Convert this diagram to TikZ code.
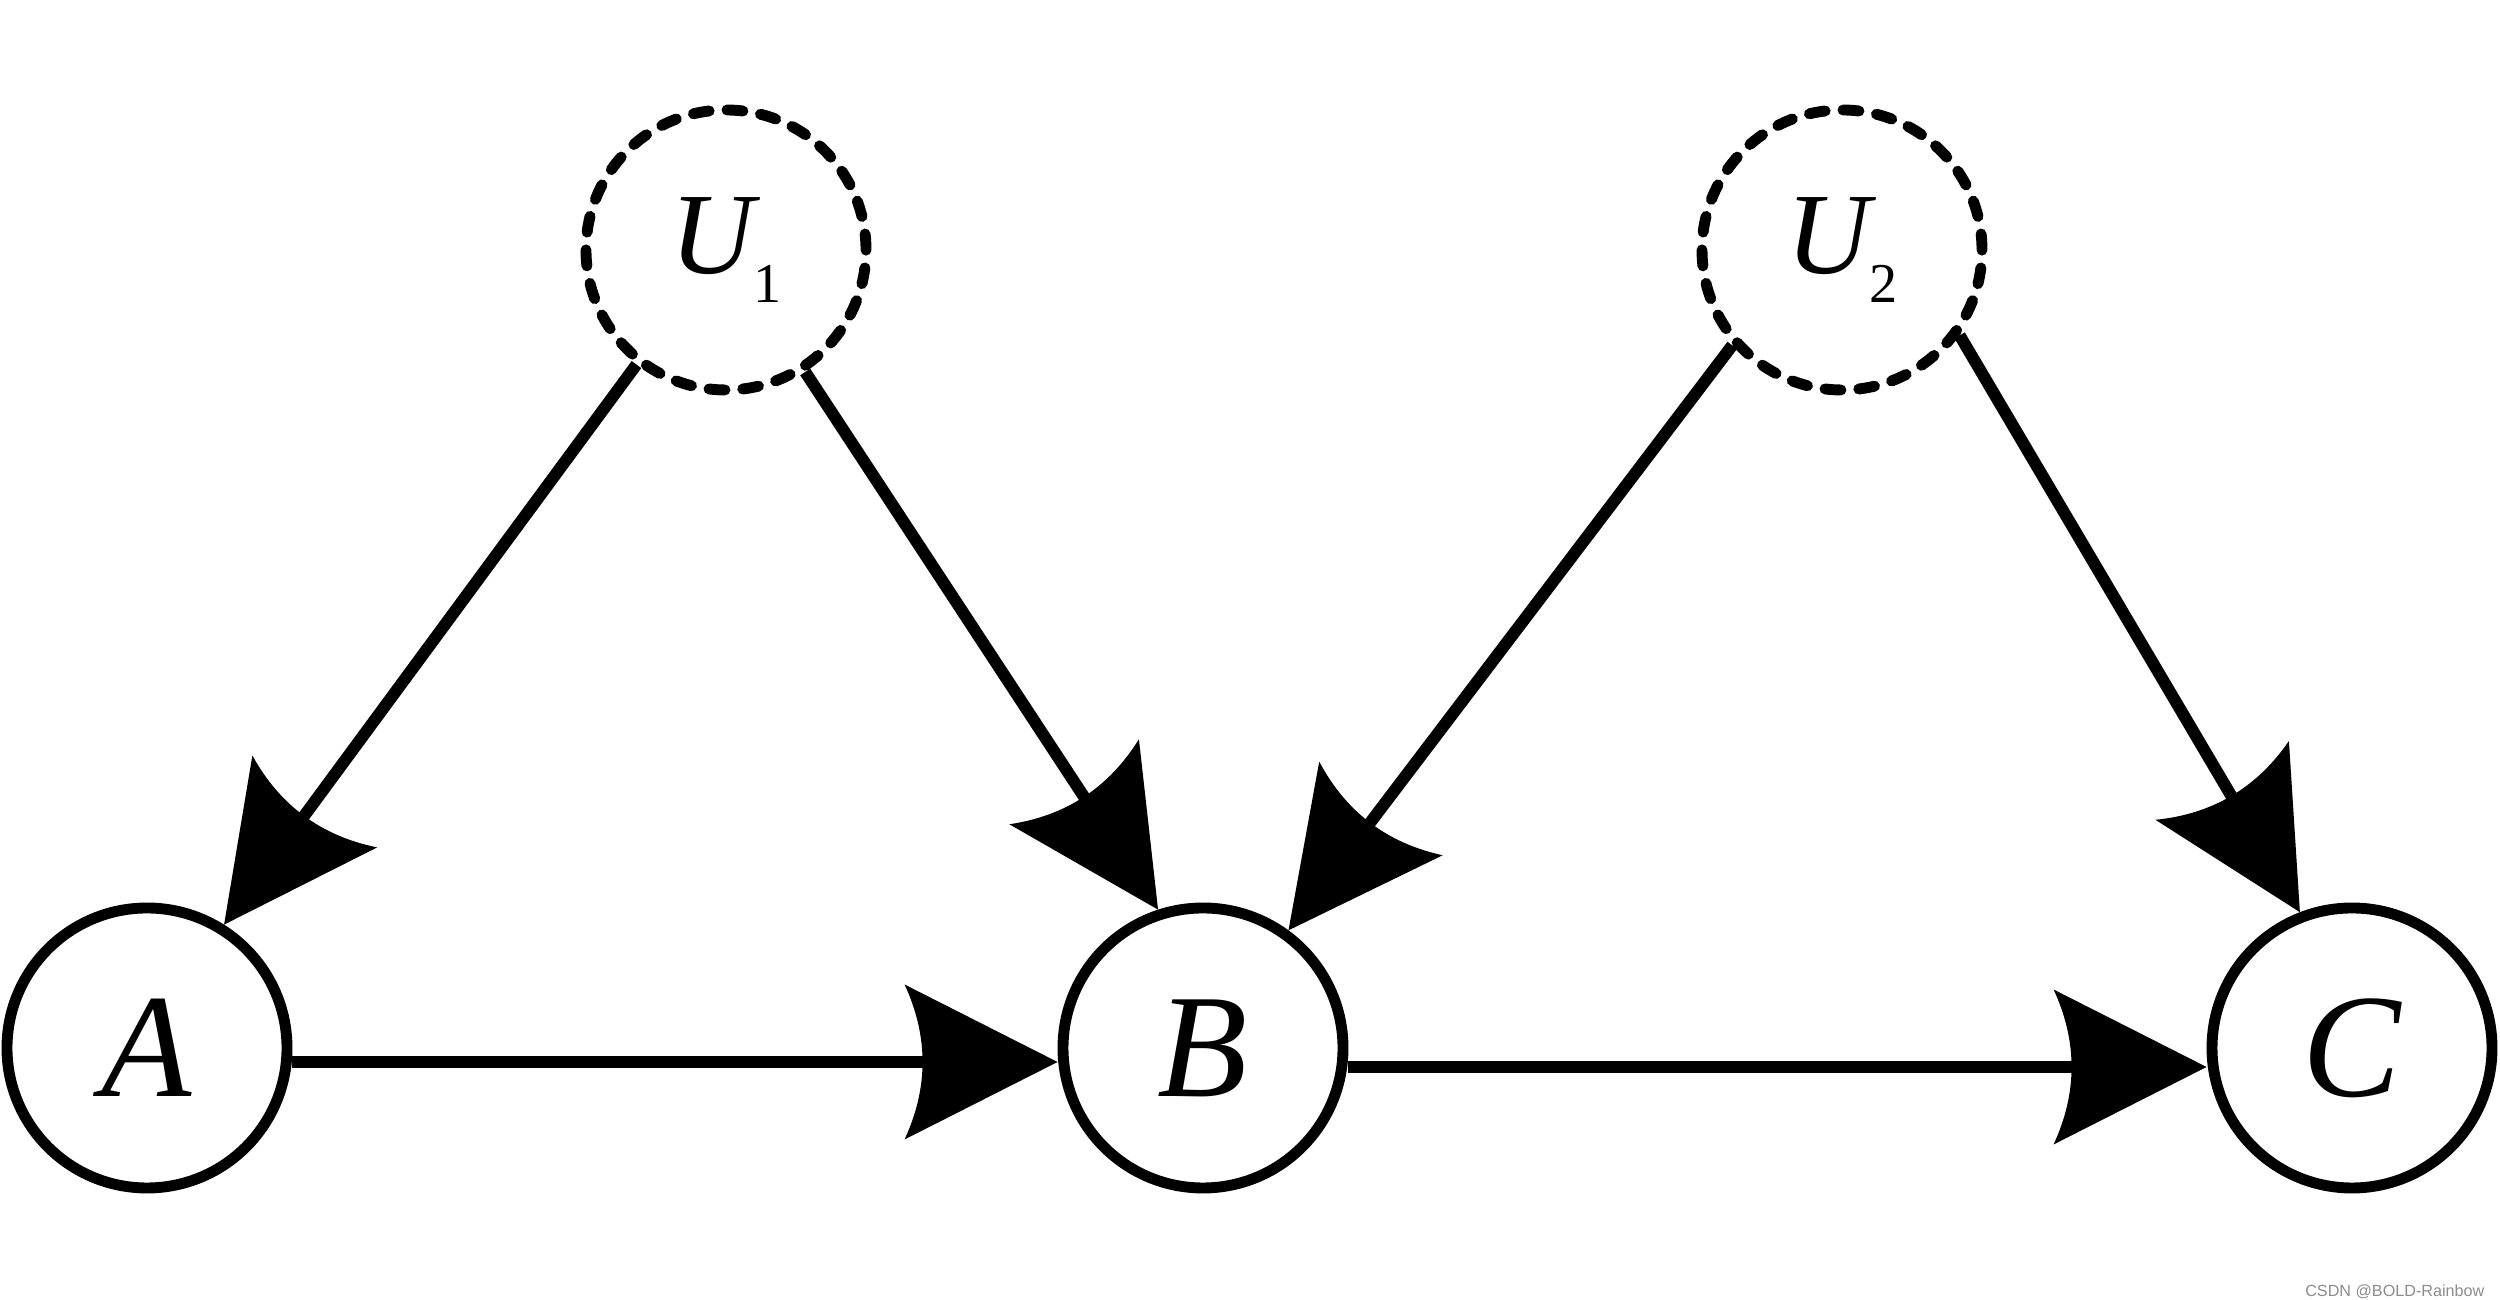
\documentclass[tikz,border=0pt]{standalone}
\usepackage{fontspec}
\setmainfont{Liberation Serif}[ItalicFont={Liberation Serif Italic}]
\newfontfamily\labelfont{Liberation Serif Italic}
\newfontfamily\wmfont{Liberation Sans}
\usetikzlibrary{arrows.meta}
\newdimen\csarrowtmp
\pgfdeclarearrow{
  name = CurvedStealth,
  defaults = {length = 1.53cm, width = 1.55cm, inset = 0.18cm},
  parameters = {\the\pgfarrowlength,\the\pgfarrowwidth,\the\pgfarrowinset},
  setup code = {
    \pgfarrowssettipend{0pt}
    \csarrowtmp=\pgfarrowlength
    \advance\csarrowtmp by -2\pgfarrowinset
    \pgfarrowssetlineend{-\csarrowtmp}
    \pgfarrowssetbackend{-\pgfarrowlength}
    \pgfarrowshullpoint{0pt}{0pt}
    \pgfarrowshullpoint{-\pgfarrowlength}{.5\pgfarrowwidth}
    \pgfarrowshullpoint{-\pgfarrowlength}{-.5\pgfarrowwidth}
    \pgfarrowssavethe\pgfarrowlength
    \pgfarrowssavethe\pgfarrowwidth
    \pgfarrowssavethe\pgfarrowinset
  },
  drawing code = {
    \pgfpathmoveto{\pgfpointorigin}
    \pgfpathlineto{\pgfpoint{-\pgfarrowlength}{.5\pgfarrowwidth}}
    \pgfpathquadraticcurveto{\pgfpoint{-\pgfarrowlength+2\pgfarrowinset}{0pt}}{\pgfpoint{-\pgfarrowlength}{-.5\pgfarrowwidth}}
    \pgfpathclose
    \pgfusepathqfill
  }
}
\tikzset{
  solidc/.style={circle, draw, line width=3.1pt, minimum size=2.8cm, inner sep=0pt,
    font=\labelfont\fontsize{42}{42}\selectfont},
  ucirc/.style={circle, draw, line width=3.1pt, dash pattern=on 0.16cm off 0.1783cm,
    line cap=round, minimum size=2.8cm, inner sep=0pt,
    font=\fontsize{33}{33}\selectfont},
  conn/.style={line width=3.4pt, -{CurvedStealth}},
}
\begin{document}
\begin{tikzpicture}
\useasboundingbox (0,0) rectangle (25,13);
\fill[white] (0,0) rectangle (25,13);
\node[solidc] (A) at (1.47,2.52) {A};
\node[solidc] (B) at (12.03,2.52) {B};
\node[solidc] (C) at (23.52,2.52) {C};
\node[ucirc] (U1) at (7.26,10.50) {{\labelfont U}\raisebox{-8pt}{\fontsize{16}{16}\selectfont 1}};
\node[ucirc] (U2) at (18.42,10.50) {{\labelfont U}\raisebox{-8pt}{\fontsize{16}{16}\selectfont 2}};
\draw[conn] ([yshift=-0.14cm]A.east) -- ([yshift=-0.14cm]B.west);
\draw[conn] ([yshift=-0.19cm]B.east) -- ([yshift=-0.19cm]C.west);
\draw[conn] (U1.232) -- (A.58);
\draw[conn] (U1.303) -- (B.108.7);
\draw[conn] (U2.221.5) -- (B.54.8);
\draw[conn] (U2.324.7) -- (C.111);
\node[anchor=base east, text=black!45, font=\wmfont\fontsize{4.6}{5}\selectfont, inner sep=0pt] (wm) at (24.85,0.03) {CSDN @BOLD-Rainbow};
\end{tikzpicture}
\end{document}
